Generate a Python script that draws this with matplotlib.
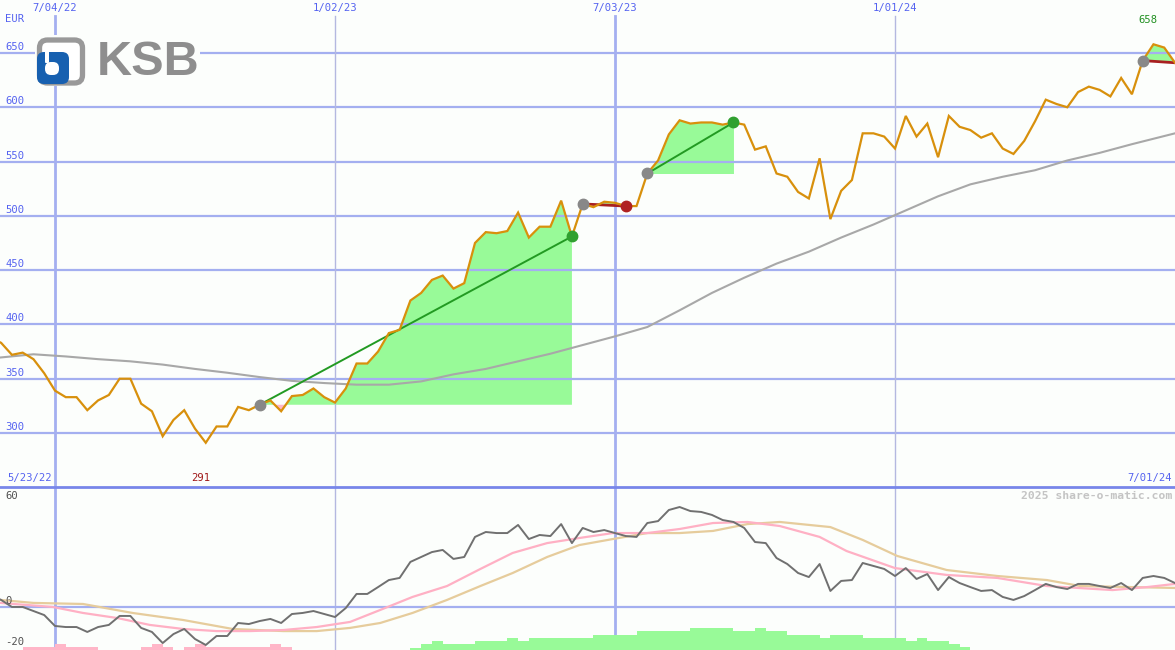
import numpy as np
import matplotlib
matplotlib.use('Agg')
import matplotlib.pyplot as plt
from matplotlib.lines import Line2D
from matplotlib.patches import FancyBboxPatch
import matplotlib.transforms as mtransforms

# ---------------- data (x = weeks since 2022-07-04) ----------------
weeks = list(range(-6, 105))
price = [388, 383, 372, 374, 368, 355, 339, 333, 333, 321,
         330, 335, 350, 350, 327, 320, 297, 312, 321, 304,
         291, 306, 306, 324, 321, 326, 330, 320, 334, 335,
         341, 333, 328, 341, 364, 364, 375, 392, 395, 422,
         429, 441, 445, 433, 438, 475, 485, 484, 486, 503,
         480, 490, 490, 514, 481, 511, 508, 513, 512, 509,
         509, 539, 551, 575, 588, 585, 586, 586, 584, 586,
         584, 561, 564, 539, 536, 522, 516, 553, 497, 523,
         533, 576, 576, 573, 562, 592, 573, 585, 554, 592,
         582, 579, 572, 576, 562, 557, 569, 587, 607, 603,
         600, 614, 619, 616, 610, 627, 612, 643, 658, 655,
         641]

ma_weeks = [-5.1, -2, 1, 4, 7, 10, 13, 16, 19, 22, 25, 28, 31, 34, 37, 40, 43, 46, 49,
            52, 55, 58, 61, 64, 67, 70, 73, 76, 79, 82, 85, 88, 91, 94, 97, 100, 104]
ma_values = [369.5, 372.5, 370.5, 368, 366, 363, 359, 355.5, 351.5, 348, 346, 344.5,
             344.5, 347.5, 354, 359, 366, 373, 381, 389, 397.6, 413, 429, 443, 456,
             467, 480, 492, 505, 518, 529, 536, 542, 551, 558, 566, 576]

momentum = [7, 4.3, 0.3, 0.3, -2, -4.3, -10.5, -11.1, -11.1, -13.9,
            -11.1, -9.9, -4.8, -4.8, -11.6, -13.9, -20.2, -15.1, -12.2, -17.9,
            -21.3, -16.2, -16.2, -8.8, -9.4, -7.7, -6.5, -8.8, -3.7, -3.1,
            -2, -3.7, -5.4, -0.3, 7.7, 7.7, 11.6, 15.6, 16.8, 25.9,
            28.7, 31.5, 32.7, 27.6, 28.7, 40.1, 42.9, 42.3, 42.3, 46.9,
            38.9, 41.2, 40.6, 47.4, 36.6, 45.2, 42.9, 44, 42.3, 40.6,
            40.1, 48, 49.1, 55.4, 57.1, 54.8, 54.3, 52.6, 49.7, 48.6,
            45.2, 37.2, 36.6, 28.1, 24.7, 19.6, 17.3, 24.7, 9.4, 15.1,
            15.6, 25.3, 23.6, 21.9, 17.9, 22.4, 16.2, 19, 9.9, 17.3,
            13.9, 11.6, 9.4, 9.9, 6, 4.3, 6.5, 9.9, 13.4, 11.6,
            10.5, 13.4, 13.4, 12.2, 11.1, 13.9, 9.9, 16.8, 17.9, 16.8,
            13.9]

fast_weeks = [-5.1, -0.2, 2.6, 5.8, 8.8, 11.9, 15.0, 18.1, 21.2, 24.3, 27.4, 30.2, 33.2,
              36.4, 39.5, 42.5, 45.7, 48.7, 51.8, 55.0, 58.0, 61.1, 64.3, 67.3, 71.0,
              73.5, 78.0, 82.8, 87.5, 92.1, 98.2, 101.4, 104.0]
fast_values = [2.6, 0.3, -3.1, -6.0, -9.9, -12.2, -13.4, -13.4, -12.8, -11.1, -8.2, -1.4, 6.0,
               12.2, 21.9, 31.0, 36.6, 39.5, 42.3, 42.3, 44.6, 48.0, 48.6, 46.3, 40.1,
               32.1, 22.4, 18.5, 16.8, 12.2, 9.9, 11.6, 13.4]

slow_weeks = [-5.1, -2.0, 2.6, 7.2, 11.9, 16.5, 21.2, 24.3, 27.4, 30.2, 33.2, 36.4, 39.5,
              42.5, 45.7, 48.7, 51.8, 55.0, 58.0, 61.1, 64.3, 67.3, 72.0, 75.0, 78.2,
              82.8, 87.5, 92.1, 95.2, 104.0]
slow_values = [4.3, 2.6, 2.0, -3.1, -7.1, -12.2, -13.4, -13.4, -11.6, -8.8, -3.1, 4.3, 12.2,
               19.6, 28.7, 35.5, 38.9, 42.3, 42.3, 43.5, 47.4, 48.6, 45.7, 38.4, 29.3,
               21.3, 17.9, 15.6, 12.2, 11.1]

hist = [0, 0, 0, -1.7, -1.7, -1.7, -3.4, -1.7, -1.7, -1.7,
        0, 0, 0, 0, -1.7, -3.4, -1.7, 0, -1.7, -3.4,
        -1.7, -1.7, -1.7, -1.7, -1.7, -1.7, -3.4, -1.7, 0, 0,
        0, 0, 0, 0, 0, 0, 0, 0, 0, 1.1,
        3.4, 5.1, 3.4, 3.4, 3.4, 5.1, 5.1, 5.1, 6.8, 5.1,
        6.8, 6.8, 6.8, 6.8, 6.8, 6.8, 8.5, 8.5, 8.5, 8.5,
        10.8, 10.8, 10.8, 10.8, 10.8, 12.5, 12.5, 12.5, 12.5, 10.8,
        10.8, 12.5, 10.8, 10.8, 8.5, 8.5, 8.5, 6.8, 8.5, 8.5,
        8.5, 6.8, 6.8, 6.8, 6.8, 5.1, 6.8, 5.1, 5.1, 3.4,
        1.7, 0, 0, 0, 0, 0, 0, 0, 0, 0,
        0, 0, 0, 0, 0, 0, 0, 0, 0, 0,
        0]

# signals: (start week, end week, kind, closed)
signals = [(19, 48, 'buy', True), (49, 53, 'sell', True),
           (55, 63, 'buy', True), (101, 104, 'sell', False)]

date_ticks = [0, 26, 52, 78]
date_labels = ['7/04/22', '1/02/23', '7/03/23', '1/01/24']
price_ticks = [300, 350, 400, 450, 500, 550, 600, 650]
first_date, last_date = '5/23/22', '7/01/24'
low_week, low_label = 14, '291'
high_week, high_label = 102, '658'

# ---------------- styling ----------------
BG = '#fcfefc'
GRID = '#a4aff0'
GRID_THIN = '#b4b8e0'
SEP = '#7886ea'
LBL = '#5563f0'
FONT = 'DejaVu Sans Mono'

W, H = 1175, 650
fig = plt.figure(figsize=(W / 100, H / 100), dpi=100, facecolor=BG)
split = 487
ax = fig.add_axes([0, (H - split) / H, 1, split / H], facecolor=BG)
ax2 = fig.add_axes([0, 0, 1, (H - split) / H], facecolor=BG)

XL = (-5.107, 104.0)
for a in (ax, ax2):
    a.set_xlim(*XL)
    for s in a.spines.values():
        s.set_visible(False)
    a.set_xticks([])
    a.set_yticks([])
ax.set_ylim(250.25, 698.8)
ax2.set_ylim(-24.15, 68.47)

wk = np.array(weeks, dtype=float)
pr = np.array(price, dtype=float)

# ---- top panel ----
for v in price_ticks:
    ax.axhline(v, color=GRID, lw=1.6, zorder=2)
top_frac = (split - 16) / split
for i, t in enumerate(date_ticks):
    thick = (i % 2 == 0)
    ax.axvline(t, ymin=0, ymax=top_frac, color=GRID if thick else GRID_THIN,
               lw=2.0 if thick else 1.0, zorder=2)
    ax2.axvline(t, color=GRID if thick else GRID_THIN,
                lw=2.0 if thick else 1.0, zorder=1)

# signal fills
for s, e, kind, closed in signals:
    i0, i1 = weeks.index(s), weeks.index(e)
    xs = wk[i0:i1 + 1]
    ys = pr[i0:i1 + 1]
    base = ys[0]
    ax.fill_between(xs, base, ys, where=ys >= base, interpolate=True,
                    color='#98fa98', lw=0, zorder=1)
    ax.fill_between(xs, base, ys, where=ys <= base, interpolate=True,
                    color='#ffb6c8', lw=0, zorder=1)

ax.plot(ma_weeks, ma_values, color='#a8a8a8', lw=1.5, zorder=3)

for s, e, kind, closed in signals:
    i0, i1 = weeks.index(s), weeks.index(e)
    col = '#229a22' if kind == 'buy' else '#a82020'
    ax.plot([wk[i0], wk[i1]], [pr[i0], pr[i1]], color=col,
            lw=1.4 if kind == 'buy' else 2.0, zorder=4)

ax.plot(wk, pr, color='#d8900c', lw=1.6, zorder=5, solid_joinstyle='miter')

for s, e, kind, closed in signals:
    i0, i1 = weeks.index(s), weeks.index(e)
    ax.plot(wk[i0], pr[i0], 'o', ms=7.5, color='#888888', mec='#888888', zorder=6)
    if closed:
        col = '#30a030' if kind == 'buy' else '#b02222'
        ax.plot(wk[i1], pr[i1], 'o', ms=7.5, color=col, mec=col, zorder=6)

# labels
ytr = mtransforms.offset_copy(ax.get_yaxis_transform(), fig=fig, y=6, units='dots')
for v in price_ticks:
    ax.text(5 / W, v, str(v), transform=ytr, color=LBL, fontsize=7.6,
            family=FONT, va='center', ha='left', zorder=7)
ax.text(5 / W, 1 - 19 / split, 'EUR', transform=ax.transAxes, color=LBL,
        fontsize=7.6, family=FONT, va='center', ha='left')
xtr = ax.get_xaxis_transform()
for t, lab in zip(date_ticks, date_labels):
    ax.text(t, 1 - 8 / split, lab, transform=xtr, color=LBL, fontsize=7.6,
            family=FONT, va='center', ha='center')
ax.text(7 / W, 1 - 478 / split, first_date, transform=ax.transAxes, color=LBL,
        fontsize=7.6, family=FONT, va='center', ha='left')
ax.text(1 - 3 / W, 1 - 478 / split, last_date, transform=ax.transAxes, color=LBL,
        fontsize=7.6, family=FONT, va='center', ha='right')
ax.text(low_week - 0.5, 1 - 478 / split, low_label, transform=xtr, color='#a01818',
        fontsize=7.6, family=FONT, va='center', ha='center')
ax.text(high_week - 0.5, 1 - 20 / split, high_label, transform=xtr, color='#209020',
        fontsize=7.6, family=FONT, va='center', ha='center')

# separator
fig.add_artist(Line2D([0, 1], [(H - split) / H] * 2, transform=fig.transFigure,
                      color=SEP, lw=2.0, zorder=10))

# ---- lower panel ----
ax2.axhline(0, color=GRID, lw=1.6, zorder=1)
hv = np.array(hist)
bottom = ax2.get_ylim()[0]
ax2.bar(wk, np.abs(hv), bottom=bottom, width=1.0, align='edge',
        color=['#98fa98' if h > 0 else '#ffb6c8' for h in hv], lw=0, zorder=2)
ax2.plot(slow_weeks, slow_values, color='#e6cc9c', lw=1.6, zorder=3)
ax2.plot(fast_weeks, fast_values, color='#ffb0c4', lw=1.6, zorder=3)
ax2.plot(wk, momentum, color='#707070', lw=1.4, zorder=4)

ytr2 = mtransforms.offset_copy(ax2.get_yaxis_transform(), fig=fig, y=6, units='dots')
ytr2b = mtransforms.offset_copy(ax2.get_yaxis_transform(), fig=fig, y=1, units='dots')
ax2.text(5 / W, 60, '60', transform=ytr2, color='#505050', fontsize=7.6,
         family=FONT, va='center', ha='left')
ax2.text(5 / W, 0, '0', transform=ytr2, color='#505050', fontsize=7.6,
         family=FONT, va='center', ha='left')
ax2.text(5 / W, -20, '-20', transform=ytr2b, color='#505050', fontsize=7.6,
         family=FONT, va='center', ha='left')
ax2.text(1 - 3 / W, 1 - 9 / (H - split), '2025 share-o-matic.com', transform=ax2.transAxes,
         color='#c4c4c4', fontsize=8.2, family=FONT, fontweight='bold',
         va='center', ha='right')

# ---- logo ----
lax = fig.add_axes([35 / W, 1 - 86 / H, 165 / W, 51 / H], facecolor=BG)
lax.set_xlim(0, 165)
lax.set_ylim(51, 0)
for s in lax.spines.values():
    s.set_visible(False)
lax.set_xticks([])
lax.set_yticks([])
lax.add_patch(FancyBboxPatch((4.5, 5), 43, 43, boxstyle='round,pad=0,rounding_size=8',
                             fc='white', ec='#999999', lw=3.8))
lax.add_patch(FancyBboxPatch((2.0, 17), 32, 32, boxstyle='round,pad=0,rounding_size=7',
                             fc='#1760b0', ec='none'))
lax.add_patch(FancyBboxPatch((10, 27), 14, 13, boxstyle='round,pad=0,rounding_size=6',
                             fc='white', ec='none'))
lax.add_patch(FancyBboxPatch((10, 13), 4, 15, boxstyle='round,pad=0,rounding_size=1',
                             fc='white', ec='none'))
lax.text(62, 27.5, 'KSB', color='#8e8e8e', fontsize=35, fontweight='bold',
         family='Liberation Sans', va='center', ha='left')

fig.savefig('out.png', dpi=100, facecolor=BG)
